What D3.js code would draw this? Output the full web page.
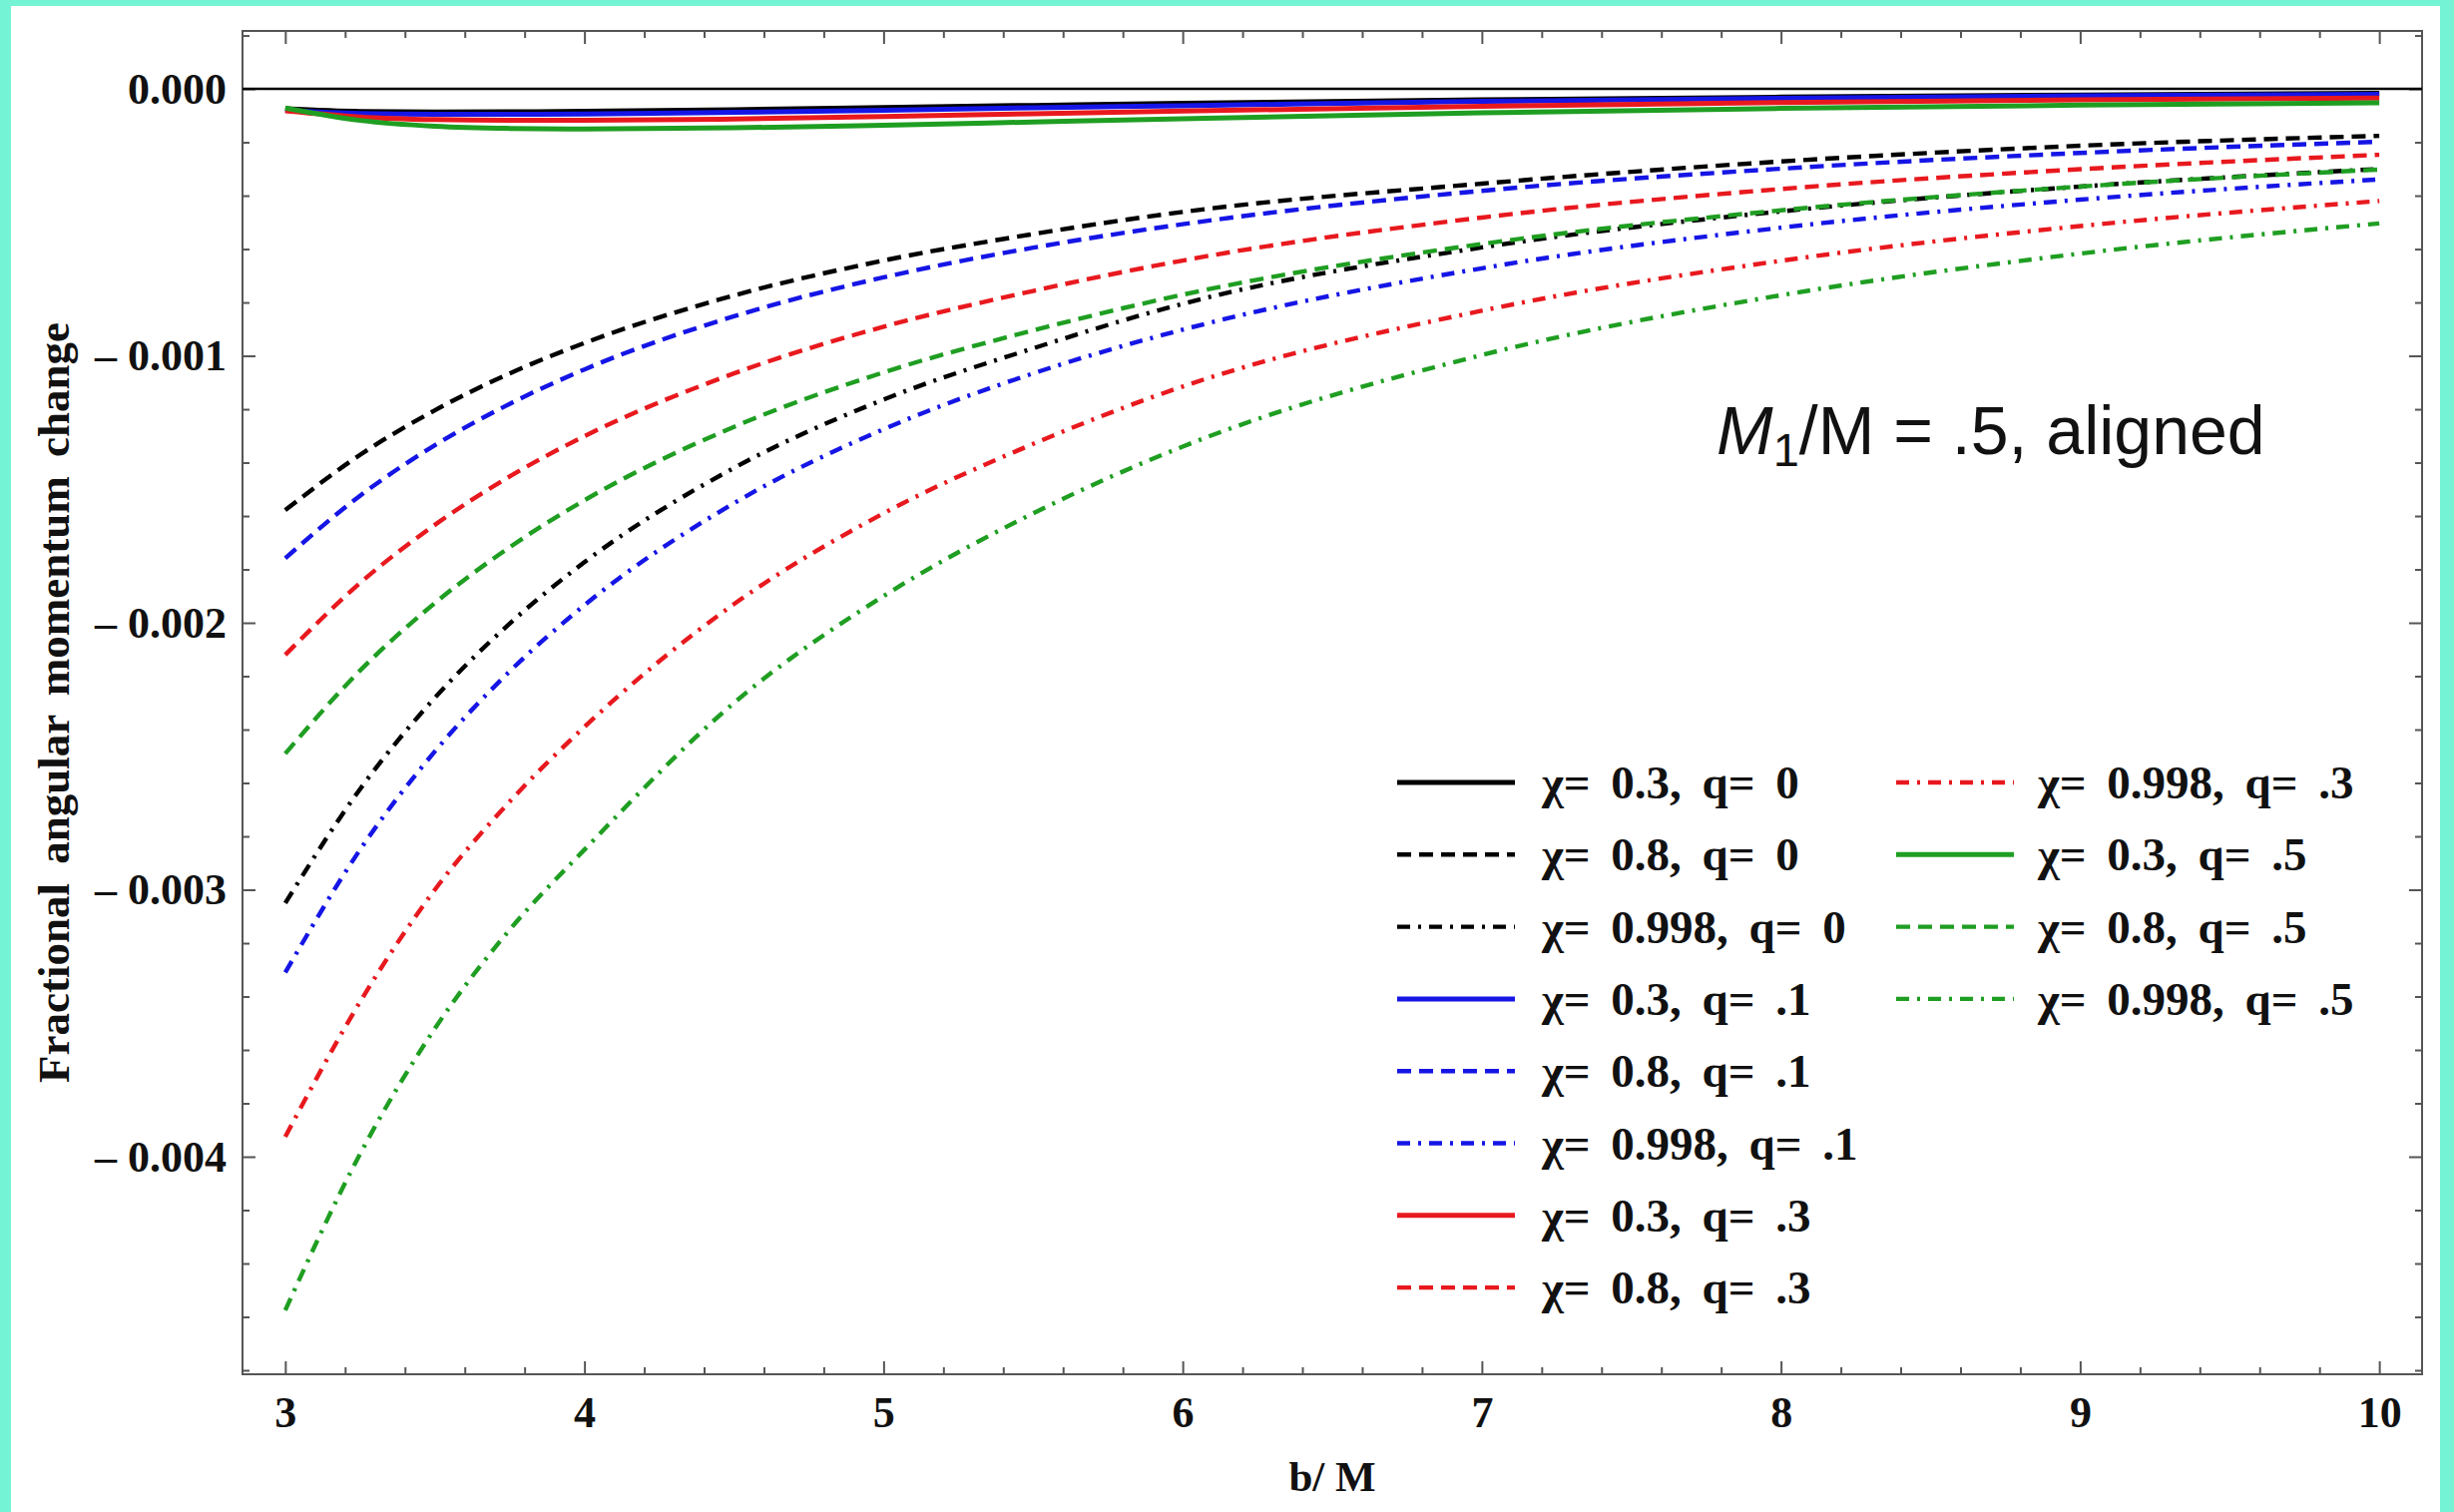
<!DOCTYPE html>
<html><head><meta charset="utf-8">
<script src="https://cdn.jsdelivr.net/npm/d3@7"></script>
<style>
html,body{margin:0;padding:0;background:#74f4d4;}
svg{display:block;}
</style></head><body>
<svg id="chart" width="2459" height="1515"></svg>
<script>
// ---------------- data ----------------
const bValues = [3, 3.25, 3.5, 3.75, 4, 4.5, 5, 5.5, 6, 7, 8, 9, 10];

const chi03_q0   = [-0.075e-3, -0.085e-3, -0.087e-3, -0.086e-3, -0.084e-3, -0.078e-3, -0.070e-3, -0.062e-3, -0.054e-3, -0.041e-3, -0.031e-3, -0.023e-3, -0.017e-3];
const chi08_q0   = [-1.578e-3, -1.371e-3, -1.204e-3, -1.066e-3, -0.952e-3, -0.774e-3, -0.643e-3, -0.544e-3, -0.461e-3, -0.355e-3, -0.272e-3, -0.213e-3, -0.176e-3];
const chi998_q0  = [-3.050e-3, -2.623e-3, -2.281e-3, -2.003e-3, -1.773e-3, -1.420e-3, -1.164e-3, -0.972e-3, -0.805e-3, -0.594e-3, -0.459e-3, -0.366e-3, -0.300e-3];
const chi03_q1   = [-0.080e-3, -0.092e-3, -0.095e-3, -0.095e-3, -0.094e-3, -0.088e-3, -0.080e-3, -0.071e-3, -0.063e-3, -0.047e-3, -0.035e-3, -0.026e-3, -0.020e-3];
const chi08_q1   = [-1.758e-3, -1.524e-3, -1.335e-3, -1.180e-3, -1.051e-3, -0.852e-3, -0.706e-3, -0.595e-3, -0.507e-3, -0.382e-3, -0.299e-3, -0.240e-3, -0.198e-3];
const chi998_q1  = [-3.310e-3, -2.850e-3, -2.482e-3, -2.182e-3, -1.934e-3, -1.552e-3, -1.275e-3, -1.066e-3, -0.902e-3, -0.672e-3, -0.520e-3, -0.415e-3, -0.339e-3];
const chi03_q3   = [-0.082e-3, -0.105e-3, -0.115e-3, -0.118e-3, -0.118e-3, -0.113e-3, -0.104e-3, -0.093e-3, -0.083e-3, -0.065e-3, -0.051e-3, -0.041e-3, -0.034e-3];
const chi08_q3   = [-2.120e-3, -1.851e-3, -1.633e-3, -1.452e-3, -1.301e-3, -1.066e-3, -0.891e-3, -0.757e-3, -0.643e-3, -0.482e-3, -0.375e-3, -0.301e-3, -0.247e-3];
const chi998_q3  = [-3.925e-3, -3.420e-3, -3.000e-3, -2.670e-3, -2.390e-3, -1.930e-3, -1.590e-3, -1.330e-3, -1.115e-3, -0.831e-3, -0.644e-3, -0.514e-3, -0.420e-3];
const chi03_q5   = [-0.072e-3, -0.118e-3, -0.140e-3, -0.148e-3, -0.150e-3, -0.146e-3, -0.136e-3, -0.124e-3, -0.112e-3, -0.090e-3, -0.073e-3, -0.061e-3, -0.052e-3];
const chi08_q5   = [-2.490e-3, -2.179e-3, -1.926e-3, -1.717e-3, -1.541e-3, -1.266e-3, -1.062e-3, -0.905e-3, -0.771e-3, -0.581e-3, -0.455e-3, -0.366e-3, -0.302e-3];
const chi998_q5  = [-4.575e-3, -3.990e-3, -3.520e-3, -3.150e-3, -2.850e-3, -2.300e-3, -1.900e-3, -1.590e-3, -1.340e-3, -0.997e-3, -0.773e-3, -0.617e-3, -0.504e-3];

const seriesLabels = [
  "χ= 0.3, q= 0", "χ= 0.8, q= 0", "χ= 0.998, q= 0",
  "χ= 0.3, q= .1", "χ= 0.8, q= .1", "χ= 0.998, q= .1",
  "χ= 0.3, q= .3", "χ= 0.8, q= .3", "χ= 0.998, q= .3",
  "χ= 0.3, q= .5", "χ= 0.8, q= .5", "χ= 0.998, q= .5"
];
const seriesValues = [chi03_q0, chi08_q0, chi998_q0, chi03_q1, chi08_q1, chi998_q1,
                      chi03_q3, chi08_q3, chi998_q3, chi03_q5, chi08_q5, chi998_q5];
const seriesColors = ["#000000","#000000","#000000","#1515e6","#1515e6","#1515e6",
                      "#e8191e","#e8191e","#e8191e","#1f9e22","#1f9e22","#1f9e22"];
const seriesStyles = ["solid","dashed","dotdash","solid","dashed","dotdash",
                      "solid","dashed","dotdash","solid","dashed","dotdash"];

const xTickValues = [3, 4, 5, 6, 7, 8, 9, 10];
const yTickValues = [0, -0.001, -0.002, -0.003, -0.004];

// ---------------- layout ----------------
const svg = d3.select("#chart");
const L = 243, R = 2427, T = 31, B = 1377;
const dashMap = {solid: null, dashed: "14,8", dotdash: "13,8,3,8"};

svg.append("rect").attr("x", 11).attr("y", 6).attr("width", 2434).attr("height", 1509).attr("fill", "#ffffff");

const x = d3.scaleLinear().domain([2.857, 10.143]).range([L, R]);
const y = d3.scaleLinear().domain([-0.004815, 0.000217]).range([B, T]);

const xMinor = d3.range(3, 10.0001, 0.2).filter(v => Math.abs(v - Math.round(v)) > 1e-6);
const yMinor = d3.range(-0.0048, 0.00021, 0.0002).filter(v => Math.abs(v * 1000 - Math.round(v * 1000)) > 1e-6);

const fmtY = d => d === 0 ? "0.000" : "\u2013 " + d3.format(".3f")(-d);

function styleAxis(g) {
  g.select(".domain").remove();
  g.selectAll(".tick line").attr("stroke", "#555").attr("stroke-width", 2);
  g.selectAll(".tick text").attr("font-family", "'Liberation Serif', 'DejaVu Serif', serif")
    .attr("font-weight", "bold").attr("font-size", 44).attr("fill", "#111");
}

// bottom
svg.append("g").attr("transform", `translate(0,${B})`)
  .call(d3.axisBottom(x).tickValues(xTickValues).tickSize(-13).tickPadding(22).tickFormat(d3.format("d"))).call(styleAxis);
svg.append("g").attr("transform", `translate(0,${B})`)
  .call(d3.axisBottom(x).tickValues(xMinor).tickSize(-7).tickFormat("")).call(styleAxis);
// top
svg.append("g").attr("transform", `translate(0,${T})`)
  .call(d3.axisTop(x).tickValues(xTickValues).tickSize(-13).tickFormat("")).call(styleAxis);
svg.append("g").attr("transform", `translate(0,${T})`)
  .call(d3.axisTop(x).tickValues(xMinor).tickSize(-7).tickFormat("")).call(styleAxis);
// left
svg.append("g").attr("transform", `translate(${L},0)`)
  .call(d3.axisLeft(y).tickValues(yTickValues).tickSize(-13).tickPadding(16).tickFormat(fmtY)).call(styleAxis);
svg.append("g").attr("transform", `translate(${L},0)`)
  .call(d3.axisLeft(y).tickValues(yMinor).tickSize(-7).tickFormat("")).call(styleAxis);
// right
svg.append("g").attr("transform", `translate(${R},0)`)
  .call(d3.axisRight(y).tickValues(yTickValues).tickSize(-13).tickFormat("")).call(styleAxis);
svg.append("g").attr("transform", `translate(${R},0)`)
  .call(d3.axisRight(y).tickValues(yMinor).tickSize(-7).tickFormat("")).call(styleAxis);

// frame
svg.append("rect").attr("x", L).attr("y", T).attr("width", R - L).attr("height", B - T)
  .attr("fill", "none").attr("stroke", "#555").attr("stroke-width", 2);

// zero axis
svg.append("line").attr("x1", L).attr("x2", R).attr("y1", y(0)).attr("y2", y(0))
  .attr("stroke", "#000").attr("stroke-width", 2.5);

// clip
svg.append("clipPath").attr("id", "clip").append("rect")
  .attr("x", L).attr("y", T).attr("width", R - L).attr("height", B - T);

const line = d3.line().x(d => x(d[0])).y(d => y(d[1])).curve(d3.curveMonotoneX);
const plotG = svg.append("g").attr("clip-path", "url(#clip)");
seriesValues.forEach((vals, i) => {
  plotG.append("path")
    .datum(bValues.map((b, j) => [b, vals[j]]))
    .attr("d", line)
    .attr("fill", "none")
    .attr("stroke", seriesColors[i])
    .attr("stroke-width", seriesStyles[i] === "solid" ? 5 : 4.4)
    .attr("stroke-dasharray", dashMap[seriesStyles[i]]);
});

// axis titles
svg.append("text").attr("x", (L + R) / 2).attr("y", 1494).attr("text-anchor", "middle")
  .attr("font-family", "'Liberation Serif', serif").attr("font-weight", "bold").attr("font-size", 43)
  .attr("fill", "#111").text("b/ M");
svg.append("text").attr("transform", `translate(69,${(T + B) / 2}) rotate(-90)`).attr("text-anchor", "middle")
  .attr("font-family", "'Liberation Serif', serif").attr("font-weight", "bold").attr("font-size", 45)
  .attr("word-spacing", 8).attr("fill", "#111").text("Fractional angular momentum change");

// annotation
const ann = svg.append("text").attr("x", 1720).attr("y", 455)
  .attr("font-family", "'Liberation Sans', Arial, sans-serif").attr("font-size", 68).attr("fill", "#111");
ann.append("tspan").attr("font-style", "italic").text("M");
ann.append("tspan").attr("font-size", 47).attr("dy", 12).text("1");
ann.append("tspan").attr("dy", -12).text("/M = .5, aligned");

// legend
const legendCols = [{lx: 1400, tx: 1545}, {lx: 1900, tx: 2042}];
const rowY0 = 784, rowStep = 72.3;
seriesLabels.forEach((lab, i) => {
  const col = i < 8 ? 0 : 1;
  const row = i < 8 ? i : i - 8;
  const cy = rowY0 + row * rowStep;
  const c = legendCols[col];
  svg.append("line").attr("x1", c.lx).attr("x2", c.lx + 118).attr("y1", cy).attr("y2", cy)
    .attr("stroke", seriesColors[i]).attr("stroke-width", seriesStyles[i] === "solid" ? 5 : 4.4)
    .attr("stroke-dasharray", dashMap[seriesStyles[i]]);
  svg.append("text").attr("x", c.tx).attr("y", cy + 16)
    .attr("font-family", "'Liberation Serif', serif").attr("font-weight", "bold").attr("font-size", 47)
    .attr("word-spacing", 9).attr("fill", "#111").text(lab);
});
</script>
</body></html>
